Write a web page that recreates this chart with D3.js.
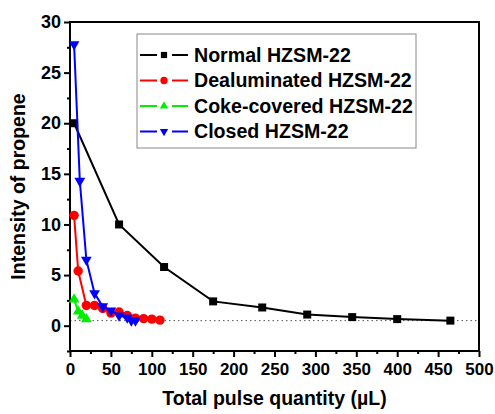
<!DOCTYPE html>
<html>
<head>
<meta charset="utf-8">
<script src="https://cdn.jsdelivr.net/npm/d3@7"></script>
<style>
  body { margin: 0; background: #fff; }
  text { font-family: "Liberation Sans", Arial, sans-serif; font-weight: bold; }
</style>
</head>
<body>
<div class="chart"></div>
<script>
// data
const normalX = [5, 60, 115, 175, 235, 290, 345, 400, 465];
const normalY = [20, 10, 5.8, 2.4, 1.8, 1.1, 0.85, 0.65, 0.5];
const dealX = [5, 10, 20, 30, 40, 50, 60, 70, 80, 90, 100, 110];
const dealY = [10.9, 5.4, 2.0, 2.0, 1.7, 1.25, 1.35, 1.0, 0.75, 0.7, 0.65, 0.55];
const cokeX = [5, 10, 15, 20];
const cokeY = [2.6, 1.4, 1.0, 0.65];
const closedX = [5, 12, 20, 30, 40, 50, 60, 70, 75, 80];
const closedY = [27.8, 14.3, 6.5, 3.2, 1.9, 1.5, 1.0, 0.8, 0.5, 0.5];
const seriesNames = ["Normal HZSM-22", "Dealuminated HZSM-22", "Coke-covered HZSM-22", "Closed HZSM-22"];
const baseline = 0.5;
const xTicks = [0, 50, 100, 150, 200, 250, 300, 350, 400, 450, 500];
const yTicks = [0, 5, 10, 15, 20, 25, 30];

const width = 495;
const height = 414;
const margin = { top: 22, right: 16, bottom: 63, left: 70 };

const series = [
  { name: seriesNames[0], xs: normalX, ys: normalY, color: "#000000", symbol: d3.symbolSquare, size: 64 },
  { name: seriesNames[1], xs: dealX, ys: dealY, color: "#ff0000", symbol: d3.symbolCircle, size: 70 },
  { name: seriesNames[2], xs: cokeX, ys: cokeY, color: "#00ee00", symbol: d3.symbolTriangle, size: 50 },
  { name: seriesNames[3], xs: closedX, ys: closedY, color: "#0000ff", symbol: "down", size: 50 },
];

const x = d3.scaleLinear().domain([0, 500]).range([margin.left, width - margin.right]);
const y = d3.scaleLinear().domain([-2.5, 30]).range([height - margin.bottom, margin.top]);

const svg = d3
  .select(".chart")
  .append("svg")
  .attr("width", width)
  .attr("height", height);

// dotted baseline
svg
  .append("line")
  .attr("x1", x(0))
  .attr("x2", x(500))
  .attr("y1", y(baseline))
  .attr("y2", y(baseline))
  .attr("stroke", "#555")
  .attr("stroke-width", 1)
  .attr("stroke-dasharray", "1.5,3");

// minor ticks
svg
  .append("g")
  .attr("transform", `translate(0,${y(-2.5)})`)
  .call(d3.axisBottom(x).tickValues(d3.range(25, 500, 50)).tickSize(3).tickFormat(""))
  .call((g) => g.select(".domain").remove())
  .selectAll("line")
  .attr("stroke-width", 2);

svg
  .append("g")
  .attr("transform", `translate(${x(0)},0)`)
  .call(d3.axisLeft(y).tickValues(d3.range(-2.5, 30, 5)).tickSize(3).tickFormat(""))
  .call((g) => g.select(".domain").remove())
  .selectAll("line")
  .attr("stroke-width", 2);

// major axes
const xAxis = svg
  .append("g")
  .attr("transform", `translate(0,${y(-2.5)})`)
  .call(d3.axisBottom(x).tickValues(xTicks).tickSize(6).tickPadding(6).tickSizeOuter(0));
xAxis.select(".domain").remove();
xAxis.selectAll("line").attr("stroke-width", 2);
xAxis.selectAll("text").attr("font-size", 17).attr("fill", "#000");

const yAxis = svg
  .append("g")
  .attr("transform", `translate(${x(0)},0)`)
  .call(d3.axisLeft(y).tickValues(yTicks).tickSize(6).tickPadding(3).tickSizeOuter(0));
yAxis.select(".domain").remove();
yAxis.selectAll("line").attr("stroke-width", 2);
yAxis.selectAll("text").attr("font-size", 18).attr("fill", "#000");

// frame
svg
  .append("rect")
  .attr("x", x(0))
  .attr("y", y(30))
  .attr("width", x(500) - x(0))
  .attr("height", y(-2.5) - y(30))
  .attr("fill", "none")
  .attr("stroke", "#000")
  .attr("stroke-width", 2);

const line = d3
  .line()
  .x((d) => x(d[0]))
  .y((d) => y(d[1]));

function symbolPath(s) {
  if (s.symbol === "down") {
    return d3.symbol(d3.symbolTriangle, s.size)();
  }
  return d3.symbol(s.symbol, s.size)();
}

series.forEach((s) => {
  const pts = s.xs.map((v, i) => [v, s.ys[i]]);
  svg
    .append("path")
    .datum(pts)
    .attr("d", line)
    .attr("fill", "none")
    .attr("stroke", s.color)
    .attr("stroke-width", 2);

  svg
    .selectAll(null)
    .data(pts)
    .enter()
    .append("path")
    .attr("d", symbolPath(s))
    .attr("transform", (d) => `translate(${x(d[0])},${y(d[1])})` + (s.symbol === "down" ? " rotate(180)" : ""))
    .attr("fill", s.color);
});

// legend
const legend = svg.append("g").attr("transform", "translate(137,34)");
legend
  .append("rect")
  .attr("width", 279)
  .attr("height", 114)
  .attr("fill", "#fff")
  .attr("stroke", "#888")
  .attr("stroke-width", 1);

series.forEach((s, i) => {
  const row = legend.append("g").attr("transform", `translate(0,${21 + i * 25.5})`);
  row.append("line").attr("x1", 3).attr("x2", 20).attr("stroke", s.color).attr("stroke-width", 2);
  row.append("line").attr("x1", 35).attr("x2", 51).attr("stroke", s.color).attr("stroke-width", 2);
  row
    .append("path")
    .attr("d", d3.symbol(s.symbol === "down" ? d3.symbolTriangle : s.symbol, s.size * 0.6)())
    .attr("transform", `translate(27,0)` + (s.symbol === "down" ? " rotate(180)" : ""))
    .attr("fill", s.color);
  row
    .append("text")
    .attr("x", 57)
    .attr("dy", "0.35em")
    .attr("font-size", 19.6)
    .attr("fill", "#000")
    .text(s.name);
});

// axis titles
svg
  .append("text")
  .attr("x", (x(0) + x(500)) / 2)
  .attr("y", 405)
  .attr("text-anchor", "middle")
  .attr("font-size", 19.5)
  .text("Total pulse quantity (µL)");

svg
  .append("text")
  .attr("transform", `translate(25,${(y(30) + y(-2.5)) / 2}) rotate(-90)`)
  .attr("text-anchor", "middle")
  .attr("font-size", 19.5)
  .text("Intensity of propene");
</script>
</body>
</html>
